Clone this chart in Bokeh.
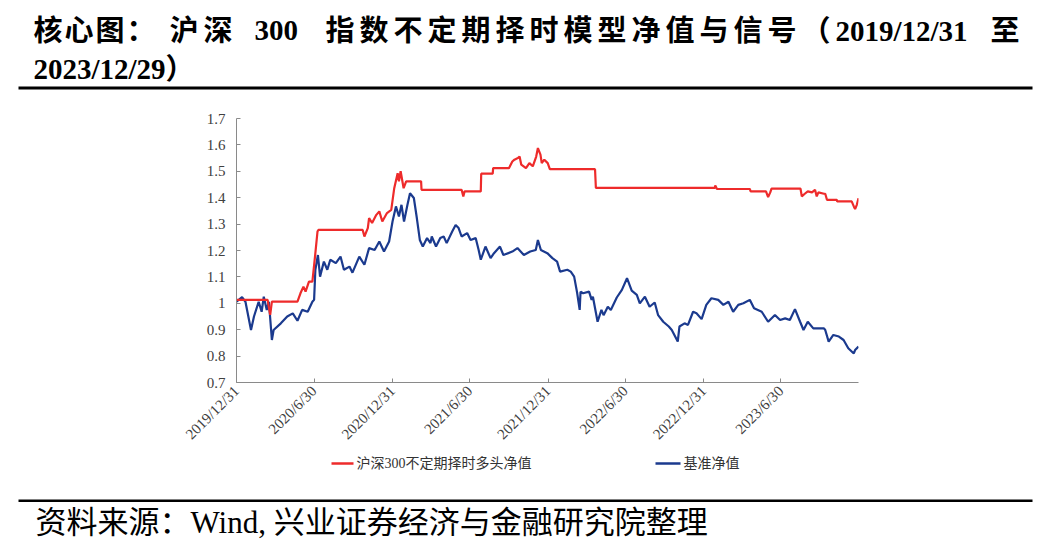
import math
import pandas as pd
from bokeh.plotting import figure
from bokeh.layouts import column
from bokeh.models import FixedTicker, NumeralTickFormatter, Range1d
from bokeh.core.properties import value
from bokeh.embed import file_html
from bokeh.resources import INLINE

# ---------------- data ----------------
strategy_dates = [
    "2019-12-31", "2020-03-13", "2020-03-19", "2020-03-23", "2020-05-22", "2020-05-29",
    "2020-06-05", "2020-06-10", "2020-06-18", "2020-06-26", "2020-07-03", "2020-07-08",
    "2020-07-10", "2020-10-22", "2020-10-26", "2020-11-03", "2020-11-06", "2020-11-13",
    "2020-11-23", "2020-11-30", "2020-12-07", "2020-12-18", "2020-12-28", "2021-01-04",
    "2021-01-12", "2021-01-15", "2021-01-19", "2021-01-26", "2021-02-01", "2021-03-08",
    "2021-03-09", "2021-06-11", "2021-06-15", "2021-06-18", "2021-07-26", "2021-07-27",
    "2021-08-23", "2021-08-24", "2021-09-30", "2021-10-08", "2021-10-13", "2021-10-21",
    "2021-10-25", "2021-10-29", "2021-11-09", "2021-11-17", "2021-11-25", "2021-12-03",
    "2021-12-07", "2021-12-13", "2021-12-16", "2021-12-22", "2021-12-30", "2022-01-04",
    "2022-04-20", "2022-04-22", "2023-01-26", "2023-01-27", "2023-01-31", "2023-04-18",
    "2023-04-20", "2023-05-26", "2023-05-31", "2023-06-05", "2023-06-08", "2023-08-15",
    "2023-08-18", "2023-08-25", "2023-09-01", "2023-09-11", "2023-09-18", "2023-09-22",
    "2023-09-26", "2023-10-09", "2023-10-12", "2023-10-16", "2023-11-08", "2023-11-09",
    "2023-12-13", "2023-12-18", "2023-12-21", "2023-12-25", "2023-12-29",
]
strategy_values = [
    1.013, 1.013, 0.956, 1.006, 1.006, 1.038,
    1.063, 1.044, 1.082, 1.082, 1.190, 1.272,
    1.278, 1.278, 1.253, 1.285, 1.323, 1.304,
    1.335, 1.348, 1.310, 1.342, 1.354, 1.436,
    1.493, 1.462, 1.500, 1.436, 1.462, 1.462,
    1.430, 1.430, 1.405, 1.424, 1.424, 1.491,
    1.491, 1.512, 1.512, 1.537, 1.544, 1.550,
    1.556, 1.525, 1.512, 1.531, 1.519, 1.556,
    1.588, 1.563, 1.531, 1.544, 1.531, 1.508,
    1.508, 1.437, 1.437, 1.446, 1.433, 1.433,
    1.424, 1.424, 1.402, 1.420, 1.434, 1.434,
    1.405, 1.415, 1.424, 1.420, 1.430, 1.405,
    1.420, 1.415, 1.415, 1.392, 1.392, 1.386,
    1.386, 1.367, 1.357, 1.373, 1.398,
]

benchmark_dates = [
    "2019-12-31", "2020-01-13", "2020-01-21", "2020-02-03", "2020-02-10", "2020-02-21",
    "2020-02-28", "2020-03-04", "2020-03-11", "2020-03-16", "2020-03-23", "2020-03-27",
    "2020-04-13", "2020-04-28", "2020-05-11", "2020-05-22", "2020-06-02", "2020-06-15",
    "2020-06-26", "2020-06-30", "2020-07-03", "2020-07-09", "2020-07-14", "2020-07-23",
    "2020-07-31", "2020-08-07", "2020-08-20", "2020-08-31", "2020-09-08", "2020-09-21",
    "2020-09-28", "2020-10-14", "2020-10-26", "2020-11-06", "2020-11-19", "2020-11-30",
    "2020-12-11", "2020-12-23", "2020-12-31", "2021-01-08", "2021-01-15", "2021-01-21",
    "2021-01-27", "2021-02-04", "2021-02-10", "2021-02-19", "2021-02-26", "2021-03-05",
    "2021-03-12", "2021-03-22", "2021-03-30", "2021-04-02", "2021-04-12", "2021-04-22",
    "2021-04-30", "2021-05-07", "2021-05-20", "2021-05-28", "2021-06-04", "2021-06-11",
    "2021-06-24", "2021-07-02", "2021-07-14", "2021-07-21", "2021-07-26", "2021-08-06",
    "2021-08-18", "2021-08-26", "2021-09-09", "2021-09-17", "2021-10-08", "2021-10-20",
    "2021-11-04", "2021-11-19", "2021-12-02", "2021-12-07", "2021-12-14", "2021-12-29",
    "2022-01-10", "2022-01-21", "2022-01-28", "2022-02-14", "2022-02-22", "2022-03-02",
    "2022-03-09", "2022-03-15", "2022-03-17", "2022-03-23", "2022-04-06", "2022-04-12",
    "2022-04-15", "2022-04-26", "2022-05-05", "2022-05-10", "2022-05-20", "2022-05-27",
    "2022-06-10", "2022-06-22", "2022-07-04", "2022-07-15", "2022-07-27", "2022-08-03",
    "2022-08-15", "2022-08-26", "2022-09-07", "2022-09-15", "2022-09-27", "2022-10-10",
    "2022-10-17", "2022-10-31", "2022-11-04", "2022-11-16", "2022-11-24", "2022-12-06",
    "2022-12-14", "2022-12-26", "2023-01-06", "2023-01-18", "2023-02-03", "2023-02-15",
    "2023-02-27", "2023-03-10", "2023-03-22", "2023-04-03", "2023-04-18", "2023-04-28",
    "2023-05-16", "2023-05-31", "2023-06-16", "2023-06-28", "2023-07-10", "2023-07-21",
    "2023-08-02", "2023-08-14", "2023-08-22", "2023-09-01", "2023-09-14", "2023-10-09",
    "2023-10-12", "2023-10-20", "2023-10-31", "2023-11-13", "2023-11-24", "2023-12-05",
    "2023-12-18", "2023-12-21", "2023-12-29",
]
benchmark_values = [
    1.006, 1.023, 1.006, 0.899, 0.950, 1.006,
    0.968, 1.025, 0.975, 1.006, 0.861, 0.899,
    0.924, 0.950, 0.962, 0.934, 0.975, 0.968,
    1.006, 1.013, 1.127, 1.183, 1.101, 1.158,
    1.127, 1.165, 1.152, 1.177, 1.127, 1.139,
    1.116, 1.177, 1.146, 1.209, 1.202, 1.234,
    1.196, 1.234, 1.310, 1.367, 1.329, 1.373,
    1.310, 1.373, 1.417, 1.399, 1.323, 1.240,
    1.215, 1.247, 1.228, 1.253, 1.215, 1.247,
    1.253, 1.228, 1.272, 1.297, 1.285, 1.253,
    1.266, 1.240, 1.247, 1.202, 1.165, 1.215,
    1.171, 1.190, 1.215, 1.183, 1.196, 1.209,
    1.183, 1.196, 1.202, 1.240, 1.202, 1.190,
    1.171, 1.158, 1.120, 1.127, 1.120, 1.101,
    1.040, 0.975, 1.044, 1.038, 1.044, 1.013,
    1.025, 0.930, 0.975, 0.955, 0.987, 0.975,
    1.022, 1.051, 1.095, 1.048, 1.032, 1.000,
    1.025, 0.987, 1.003, 0.955, 0.930, 0.912,
    0.899, 0.855, 0.912, 0.924, 0.918, 0.968,
    0.962, 0.940, 0.994, 1.019, 1.013, 0.994,
    1.006, 0.968, 0.994, 1.000, 1.013, 0.981,
    0.968, 0.930, 0.956, 0.937, 0.943, 0.937,
    0.978, 0.930, 0.899, 0.930, 0.905, 0.905,
    0.899, 0.855, 0.880, 0.874, 0.861, 0.830,
    0.810, 0.823, 0.836,
]

x_tick_dates = ["2019-12-31", "2020-06-30", "2020-12-31", "2021-06-30",
                "2021-12-31", "2022-06-30", "2022-12-31", "2023-06-30"]
x_tick_labels = ["2019/12/31", "2020/6/30", "2020/12/31", "2021/6/30",
                 "2021/12/31", "2022/6/30", "2022/12/31", "2023/6/30"]
y_ticks = [0.7, 0.8, 0.9, 1.0, 1.1, 1.2, 1.3, 1.4, 1.5, 1.6, 1.7]

series_names = ["沪深300不定期择时多头净值", "基准净值"]
# title line 1 as justified runs: (text, left x, per-character pitch or None for a whole run)
title_runs = [("核心图：", 33, 31), ("沪深", 169, 34), ("300", 254, None),
              ("指数不定期择时模型净值与信号（", 325, 34), ("2019/12/31", 835, None),
              ("至", 990, None)]
title_line2 = "2023/12/29）"
source_text = "资料来源：Wind, 兴业证券经济与金融研究院整理"

# ---------------- styling / layout ----------------
FONT = "Liberation Serif, Noto Sans CJK SC"
RED = "#ee2b2b"
BLUE = "#1b3a8e"
AXIS = "#8a8a8a"
W = 1034
TOP_H, MAIN_H, BOT_H = 95, 357, 89        # page bands: 0-95, 95-452, 452-541
FRAME_L, FRAME_R, FRAME_T, FRAME_B = 236, 858, 118, 382   # plot frame in page px


def band(height):
    """A figure whose frame covers it fully; data coords == page px (y down)."""
    f = figure(width=W, height=height, output_backend="svg", toolbar_location=None,
               x_range=Range1d(0, W), y_range=Range1d(height, 0),
               x_axis_location=None, y_axis_location=None,
               min_border=0, min_border_left=0, min_border_right=0,
               min_border_top=0, min_border_bottom=0, frame_align=False)
    f.outline_line_color = None
    f.grid.visible = False
    f.background_fill_color = "white"
    f.border_fill_color = "white"
    return f


def to_ms(s):
    return int(pd.Timestamp(s).value // 10**6)


# ---- top band: title + rule ----
top = band(TOP_H)
tx, tt = [], []
for run, x0, pitch in title_runs:
    if pitch is None:
        tx.append(x0)
        tt.append(run)
    else:
        for i, ch in enumerate(run):
            tx.append(x0 + i * pitch)
            tt.append(ch)
top.text(x=tx, y=[30] * len(tx), text=tt,
         text_font=value(FONT), text_font_size=value("29px"), text_font_style="bold",
         text_baseline="middle", text_align="left", text_color="black")
top.text(x=[33], y=[68], text=[title_line2],
         text_font=value(FONT), text_font_size=value("29px"), text_font_style="bold",
         text_baseline="middle", text_align="left", text_color="black")
top.quad(left=[18], right=[1032], top=[86], bottom=[89], fill_color="black", line_color=None)

# ---- main chart ----
p = figure(width=W, height=MAIN_H, x_axis_type="datetime",
           output_backend="svg", toolbar_location=None, frame_align=False,
           x_range=Range1d(pd.Timestamp("2019-12-31"), pd.Timestamp("2023-12-29")),
           y_range=Range1d(0.7, 1.7),
           min_border_left=FRAME_L, min_border_right=W - FRAME_R,
           min_border_top=FRAME_T - TOP_H,
           min_border_bottom=MAIN_H - (FRAME_B - TOP_H))
p.outline_line_color = None
p.background_fill_color = "white"
p.border_fill_color = "white"
p.grid.visible = False

p.line(pd.to_datetime(benchmark_dates), benchmark_values, line_color=BLUE, line_width=2.2)
p.line(pd.to_datetime(strategy_dates), strategy_values, line_color=RED, line_width=2.2)

for ax in (p.xaxis[0], p.yaxis[0]):
    ax.axis_line_color = AXIS
    ax.major_tick_line_color = AXIS
    ax.minor_tick_line_color = None
    ax.major_tick_in = 4
    ax.major_tick_out = 0
    ax.major_label_text_font = FONT
    ax.major_label_text_font_size = "15px"
    ax.major_label_text_color = "#404040"

p.yaxis.ticker = FixedTicker(ticks=y_ticks)
p.yaxis.formatter = NumeralTickFormatter(format="0.[0]")
p.yaxis.major_label_standoff = 11

x_ms = [to_ms(d) for d in x_tick_dates]
p.xaxis.ticker = FixedTicker(ticks=x_ms)
p.xaxis.major_label_overrides = {m: lab for m, lab in zip(x_ms, x_tick_labels)}
p.xaxis.major_label_orientation = math.pi / 4
p.xaxis.major_label_standoff = 6

# ---- bottom band: legend, rule, source ----
bot = band(BOT_H)
Y0 = TOP_H + MAIN_H            # page y of this band's top
leg_y = 463 - Y0
bot.segment(x0=[331, 655], x1=[353, 680], y0=[leg_y, leg_y], y1=[leg_y, leg_y],
            line_color=[RED, BLUE], line_width=2.5)
bot.text(x=[356, 683], y=[leg_y, leg_y], text=series_names,
         text_font=value(FONT), text_font_size=value("14px"),
         text_baseline="middle", text_align="left", text_color="#333333")
bot.quad(left=[18], right=[1032], top=[499 - Y0], bottom=[501.5 - Y0],
         fill_color="black", line_color=None)
bot.text(x=[35], y=[522 - Y0], text=[source_text],
         text_font=value(FONT), text_font_size=value("31px"),
         text_baseline="middle", text_align="left", text_color="black")

layout = column(top, p, bot, spacing=0)
open("out.html", "w").write(file_html(layout, INLINE))
